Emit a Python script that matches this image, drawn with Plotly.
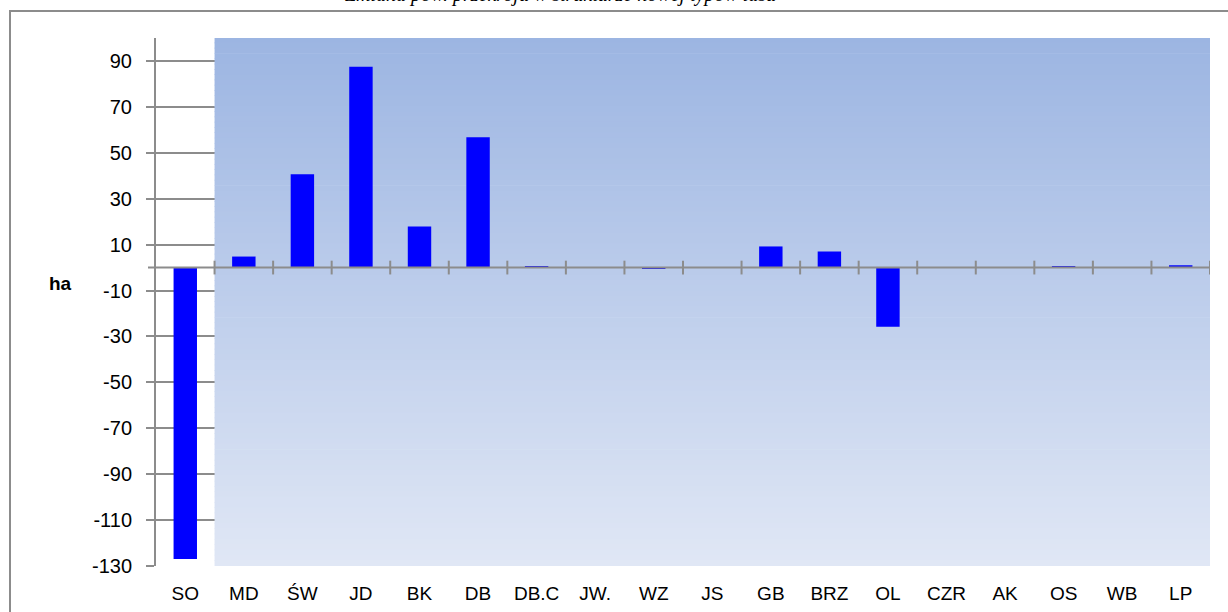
import plotly.graph_objects as go

# dane: zmiana powierzchni [ha] wg gatunku
categories = ["SO", "MD", "ŚW", "JD", "BK", "DB", "DB.C", "JW.", "WZ", "JS",
              "GB", "BRZ", "OL", "CZR", "AK", "OS", "WB", "LP"]
values = [-127, 4.8, 40.6, 87.5, 17.9, 56.8, 0.4, 0, -0.5, 0.1,
          9.2, 7, -25.8, 0, 0, 0.4, 0.1, 1]
y_ticks = [-130, -110, -90, -70, -50, -30, -10, 10, 30, 50, 70, 90]
y_labels = [str(v) for v in y_ticks]

W, H = 1228, 612
L, R, T, B = 156, 18, 38, 46
pw, ph = W - L - R, H - T - B
grey = "#8c8c8c"
font = "Liberation Sans, Arial, sans-serif"

x_idx = list(range(len(categories)))

fig = go.Figure()
fig.add_trace(go.Bar(x=x_idx, y=values, width=0.4,
                     marker=dict(color="#0000ff", line=dict(width=0))))

shapes = []
# gradient tla (od drugiej kategorii), rysowany nad siatka
n = 100
top, bot = (156, 181, 226), (224, 231, 245)
y0, y1 = -130, 100
for i in range(n):
    f = (i + 0.5) / n
    c = tuple(round(top[k] + (bot[k] - top[k]) * f) for k in range(3))
    ya = y1 - (y1 - y0) * i / n
    yb = y1 - (y1 - y0) * (i + 1) / n
    shapes.append(dict(type="rect", xref="x", yref="y", x0=0.5, x1=17.5,
                       y0=yb, y1=ya + 0.3, layer="between",
                       fillcolor="rgb(%d,%d,%d)" % c, line=dict(width=0)))

# os kategorii na zerze
shapes.append(dict(type="line", xref="paper", yref="y", x0=-8 / pw, x1=1,
                   y0=0, y1=0, layer="above", line=dict(color=grey, width=2)))
for k in range(len(categories)):
    shapes.append(dict(type="line", xref="x", yref="y", x0=k + 0.5, x1=k + 0.5,
                       y0=-3, y1=3, layer="above", line=dict(color=grey, width=2)))

# ramka wykresu
shapes.append(dict(type="rect", xref="paper", yref="paper",
                   x0=(10 - L) / pw, x1=(W + 20 - L) / pw,
                   y0=-(B + 20) / ph, y1=(ph + T - 11) / ph,
                   line=dict(color=grey, width=2), fillcolor="rgba(0,0,0,0)",
                   layer="below"))

fig.update_layout(
    width=W, height=H,
    margin=dict(l=L, r=R, t=T, b=B),
    paper_bgcolor="white", plot_bgcolor="white",
    showlegend=False,
    font=dict(family=font, size=20, color="black"),
    shapes=shapes,
    xaxis=dict(range=[-0.5, 17.5], tickmode="array", tickvals=x_idx,
               ticktext=categories, showgrid=False, zeroline=False,
               showline=False, ticks="", ticklabelstandoff=14,
               automargin=False, tickfont=dict(size=19)),
    yaxis=dict(range=[-130, 100], tickmode="array", tickvals=y_ticks,
               ticktext=y_labels, automargin=False,
               showgrid=True, gridcolor=grey, gridwidth=2, zeroline=False,
               showline=True, linecolor=grey, linewidth=2,
               ticks="outside", ticklen=8, tickwidth=2, tickcolor=grey,
               ticklabelstandoff=10, tickfont=dict(size=20)),
    annotations=[
        dict(text="<b>ha</b>", xref="paper", yref="paper",
             x=(60 - L) / pw, y=(H - B - 283) / ph, showarrow=False,
             xanchor="center", yanchor="middle", font=dict(size=19)),
        dict(text="<i>Zmiana pow. przekroju w strukturze nowej typów lasu</i>",
             xref="paper", yref="paper", x=(560 - L) / pw, y=(ph + T - 8) / ph,
             showarrow=False, xanchor="center", yanchor="bottom",
             font=dict(family="Liberation Serif, Times New Roman, serif", size=20)),
    ],
)

fig.write_html("out.html", config={"displayModeBar": False},
               post_script="document.body.style.margin='0';")
